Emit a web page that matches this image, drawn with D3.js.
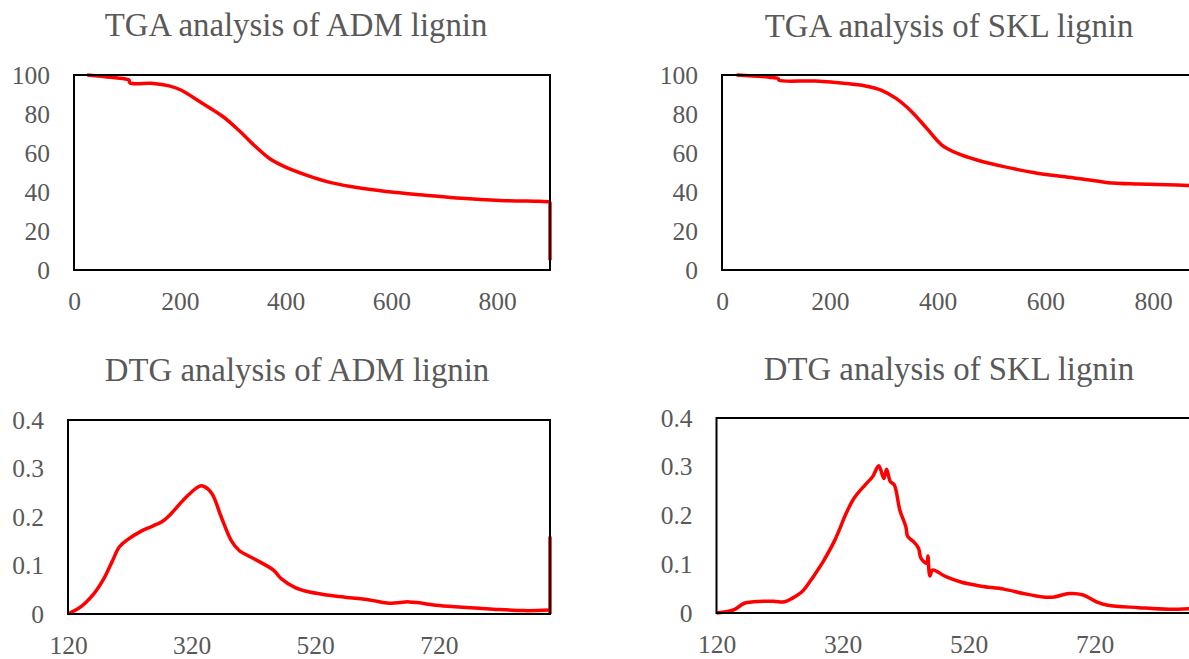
<!DOCTYPE html>
<html>
<head>
<meta charset="utf-8">
<script src="https://cdn.jsdelivr.net/npm/d3@7/dist/d3.min.js"></script>
<style>
  html, body { margin: 0; padding: 0; background: #fff; overflow: hidden; }
  svg { display: block; }
</style>
</head>
<body>
<svg id="chart" width="1189" height="659"></svg>
<script>
// ---------- DATA ----------
const tgaTicksX = [0, 200, 400, 600, 800];
const tgaTickLabelsX = ["0", "200", "400", "600", "800"];
const tgaTicksY = [0, 20, 40, 60, 80, 100];
const tgaTickLabelsY = ["0", "20", "40", "60", "80", "100"];
const dtgTicksX = [120, 320, 520, 720];
const dtgTickLabelsX = ["120", "320", "520", "720"];
const dtgTicksY = [0, 0.1, 0.2, 0.3, 0.4];
const dtgTickLabelsY = ["0", "0.1", "0.2", "0.3", "0.4"];

const titles = ["TGA analysis of ADM lignin", "TGA analysis of SKL lignin",
                "DTG analysis of ADM lignin", "DTG analysis of SKL lignin"];

// TGA ADM: temperature vs mass %
const tgaAdmTemp = [25, 70, 100, 104, 106, 150, 180, 202, 238, 282, 311, 340, 369, 398, 442, 486, 544, 609, 660, 733, 806, 880, 900];
const tgaAdmMass = [100, 98.8, 97.8, 97.4, 95.9, 95.7, 94.4, 92.3, 86.3, 78.6, 71.8, 64.1, 57.3, 53, 48.4, 44.8, 41.9, 39.7, 38.5, 36.8, 35.7, 35.2, 35];
// final drop at end of run
const tgaAdmDropTemp = [900, 900];
const tgaAdmDropMass = [35, 5];

// TGA SKL
const tgaSklTemp = [27, 87, 104, 106, 173, 230, 266, 295, 323, 352, 380, 408, 437, 473, 523, 580, 632, 682, 716, 773, 844, 900];
const tgaSklMass = [100, 98.9, 98.2, 97.3, 96.9, 95.7, 94.4, 92.3, 88, 81.2, 72.6, 64.1, 59.8, 56.4, 53, 49.9, 47.9, 46.2, 44.8, 44.1, 43.6, 43];

// DTG ADM
const dtgAdmTemp = [120, 141, 162, 178, 191, 203, 216, 240, 272, 284, 309, 328, 334, 340, 353, 368, 384, 397, 421, 453, 465, 487, 509, 552, 608, 640, 671, 689, 715, 758, 808, 858, 900];
const dtgAdmRate = [0, 0.015, 0.042, 0.073, 0.107, 0.138, 0.153, 0.172, 0.19, 0.203, 0.238, 0.26, 0.264, 0.263, 0.248, 0.2, 0.152, 0.131, 0.114, 0.09, 0.073, 0.055, 0.046, 0.037, 0.029, 0.022, 0.025, 0.023, 0.018, 0.014, 0.01, 0.007, 0.008];
// spike at end of run
const dtgAdmSpikeTemp = [900, 900, 900];
const dtgAdmSpikeRate = [0.008, 0.16, 0];

// DTG SKL
const dtgSklTemp = [120, 137, 149, 164, 179, 210, 228, 240, 256, 268, 277, 289, 308, 326, 338, 356, 368, 377.5, 385.5, 390, 396, 402, 411, 420.5, 423.5, 433, 440.6, 444.6, 454, 455.5, 458.7, 463, 484, 509, 540, 576, 607, 638, 656, 680, 702, 723, 741, 790, 838, 891, 900];
const dtgSklRate = [0, 0.003, 0.0075, 0.02, 0.023, 0.024, 0.023, 0.03, 0.044, 0.064, 0.081, 0.105, 0.15, 0.205, 0.235, 0.263, 0.28, 0.302, 0.276, 0.295, 0.269, 0.263, 0.211, 0.177, 0.157, 0.146, 0.133, 0.112, 0.102, 0.117, 0.076, 0.088, 0.0745, 0.063, 0.055, 0.049, 0.04, 0.033, 0.033, 0.04, 0.037, 0.023, 0.016, 0.011, 0.0075, 0.0095, 0.009];

// ---------- DRAW ----------
const svg = d3.select("#chart");
const FONT = "'Liberation Serif', 'Times New Roman', 'DejaVu Serif', serif";
const GRAY = "#595959";

const panels = [
  { title: titles[0], tx: 296, ty: 36, box: [74, 75, 550, 270], xd: [0, 900], yd: [0, 100],
    xt: tgaTicksX, xl: tgaTickLabelsX, yt: tgaTicksY, yl: tgaTickLabelsY, xs: tgaAdmTemp, ys: tgaAdmMass,
    ex: tgaAdmDropTemp, ey: tgaAdmDropMass },
  { title: titles[1], tx: 949, ty: 37, box: [722, 75, 1207, 270], xd: [0, 900], yd: [0, 100],
    xt: tgaTicksX, xl: tgaTickLabelsX, yt: tgaTicksY, yl: tgaTickLabelsY, xs: tgaSklTemp, ys: tgaSklMass },
  { title: titles[2], tx: 297, ty: 381, box: [68, 420, 550, 614], xd: [120, 900], yd: [0, 0.4],
    xt: dtgTicksX, xl: dtgTickLabelsX, yt: dtgTicksY, yl: dtgTickLabelsY, xs: dtgAdmTemp, ys: dtgAdmRate,
    ex: dtgAdmSpikeTemp, ey: dtgAdmSpikeRate },
  { title: titles[3], tx: 949, ty: 380, box: [716.5, 418, 1208, 613], xd: [120, 900], yd: [0, 0.4],
    xt: dtgTicksX, xl: dtgTickLabelsX, yt: dtgTicksY, yl: dtgTickLabelsY, xs: dtgSklTemp, ys: dtgSklRate }
];

panels.forEach(p => {
  const [x0, y0, x1, y1] = p.box;
  const x = d3.scaleLinear().domain(p.xd).range([x0, x1]);
  const y = d3.scaleLinear().domain(p.yd).range([y1, y0]);

  svg.append("text")
    .attr("x", p.tx).attr("y", p.ty)
    .attr("text-anchor", "middle")
    .style("font-family", FONT).style("font-size", "32.8px")
    .attr("fill", GRAY)
    .text(p.title);

  const ax = svg.append("g").attr("transform", `translate(0,${y1})`)
    .call(d3.axisBottom(x).tickValues(p.xt).tickSize(0).tickPadding(22)
      .tickFormat((d, i) => p.xl[i]));
  const ay = svg.append("g").attr("transform", `translate(${x0},0)`)
    .call(d3.axisLeft(y).tickValues(p.yt).tickSize(0).tickPadding(24)
      .tickFormat((d, i) => p.yl[i]));
  [ax, ay].forEach(g => {
    g.attr("font-family", null).attr("font-size", null);
    g.select(".domain").remove();
    g.selectAll("text").style("font-family", FONT).style("font-size", "25.5px").attr("fill", GRAY);
  });

  const data = p.xs.map((v, i) => [v, p.ys[i]]);
  svg.append("path")
    .datum(data)
    .attr("fill", "none")
    .attr("stroke", "#ff0000")
    .attr("stroke-width", 3.5)
    .attr("stroke-linejoin", "round")
    .attr("d", d3.line().x(d => x(d[0])).y(d => y(d[1])).curve(d3.curveCatmullRom.alpha(0.5)));

  if (p.ex) {
    const extra = p.ex.map((v, i) => [v, p.ey[i]]);
    svg.append("path")
      .datum(extra)
      .attr("fill", "none")
      .attr("stroke", "#ff0000")
      .attr("stroke-width", 3.5)
      .attr("d", d3.line().x(d => x(d[0])).y(d => y(d[1])));
  }

  svg.append("rect")
    .attr("x", x0).attr("y", y0)
    .attr("width", x1 - x0).attr("height", y1 - y0)
    .attr("fill", "none").attr("stroke", "#000").attr("stroke-width", 2);
});
</script>
</body>
</html>
